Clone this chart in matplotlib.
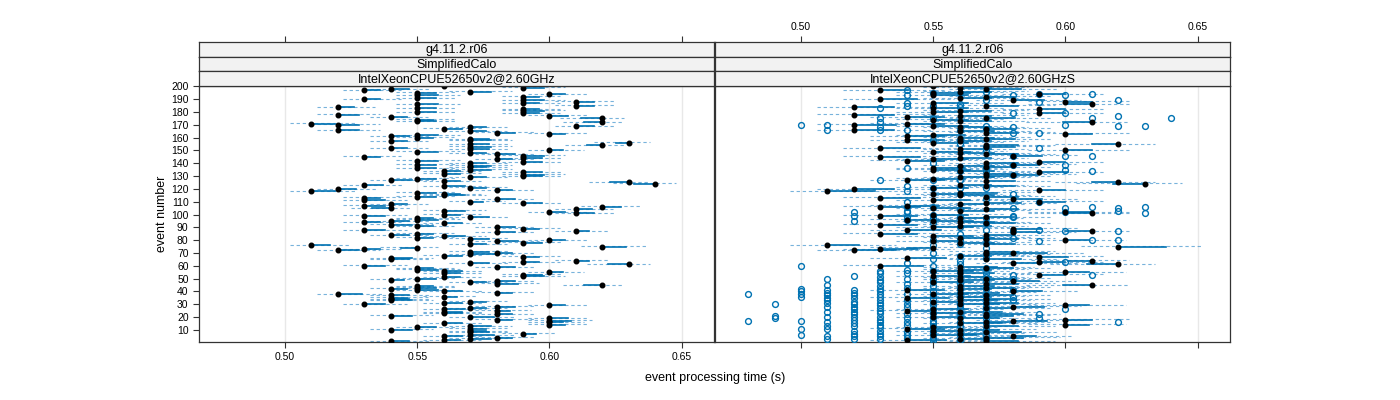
import matplotlib
matplotlib.use("Agg")
import matplotlib.pyplot as plt

plt.rcParams['font.family'] = ['Liberation Sans', 'DejaVu Sans']

# strip labels (three levels per panel)
strips_left = ['g4.11.2.r06', 'SimplifiedCalo', 'IntelXeonCPUE52650v2@2.60GHz']
strips_right = ['g4.11.2.r06', 'SimplifiedCalo', 'IntelXeonCPUE52650v2@2.60GHzS']

x_ticks = [0.50, 0.55, 0.60, 0.65]
y_ticks = list(range(10, 201, 10))
events = list(range(1, 201))

# event time of the single run, event 1..200 (ms)
t_left = [
    540, 560, 570, 580, 560, 570, 590, 570, 570, 540,
    570, 550, 570, 600, 560, 600, 600, 580, 600, 570,
    540, 580, 560, 560, 580, 560, 570, 580, 600, 530,
    560, 570, 540, 540, 540, 560, 540, 520, 580, 560,
    550, 540, 550, 550, 620, 580, 570, 580, 540, 550,
    560, 590, 590, 560, 600, 560, 550, 550, 580, 530,
    630, 570, 590, 610, 540, 540, 590, 560, 570, 580,
    570, 520, 530, 550, 620, 510, 570, 590, 580, 600,
    570, 550, 560, 540, 550, 580, 610, 530, 590, 580,
    550, 540, 560, 530, 540, 550, 550, 570, 530, 560,
    610, 600, 560, 610, 540, 620, 530, 540, 590, 570,
    530, 580, 530, 550, 560, 560, 550, 510, 580, 520,
    570, 560, 530, 640, 630, 560, 540, 550, 570, 590,
    590, 560, 590, 560, 570, 550, 570, 570, 550, 570,
    590, 550, 580, 590, 530, 590, 580, 570, 550, 600,
    570, 540, 570, 620, 570, 630, 540, 570, 570, 550,
    540, 550, 600, 580, 570, 520, 560, 570, 610, 520,
    510, 620, 550, 550, 620, 540, 600, 520, 590, 550,
    590, 590, 550, 520, 610, 550, 590, 610, 590, 530,
    550, 590, 550, 600, 550, 570, 530, 540, 590, 560,
]

# shift from the dot to the reference mean (ms)
offset_left = [
    7, 6, 8, 6, 7, 9, 5, 7, 6, 8,
    6, 7, 8, 6, 7, 5, 8, 6, 7, 9,
    8, 6, 7, 7, 5, 8, 6, 7, 6, 8,
    7, 6, 8, 7, 6, 5, 7, 9, 6, 7,
    8, 6, 7, 6, -7, 8, 6, 7, 5, 7,
    6, 8, 7, 6, 5, 7, 8, 6, 7, 8,
    -8, 7, 6, 5, 7, 8, 6, 7, 9, 6,
    7, 8, 6, -6, 9, 7, 6, 7, 8, 6,
    7, 6, 8, 7, 6, 7, 5, 8, 6, 7,
    6, 8, 7, 6, 7, 8, 6, 7, 8, 6,
    7, 6, 8, 6, -7, 7, 8, 6, 7, 5,
    8, 7, 6, 7, 8, 6, 7, 9, 6, 7,
    6, 8, 7, -8, -7, 6, 8, 7, 6, 7,
    8, 6, 7, 6, 8, 7, 6, 8, 7, 6,
    7, 8, 6, 7, 6, 8, 7, 6, 8, 5,
    7, 6, 8, -6, 7, -5, 6, 8, 7, 6,
    7, 8, 6, 7, 6, 8, 7, 6, 7, 8,
    9, -7, 7, 6, -8, 6, 7, 8, 6, 7,
    8, 6, 7, 6, 7, 8, 6, 7, 8, 6,
    7, 6, 8, 6, 7, 8, 6, 7, 8, 6,
]
sd_left = 8

t_right = [
    570, 540, 560, 570, 580, 550, 560, 570, 550, 560,
    540, 550, 570, 600, 560, 570, 580, 600, 560, 550,
    570, 570, 550, 560, 540, 550, 570, 580, 600, 560,
    570, 550, 560, 570, 540, 560, 570, 550, 560, 580,
    540, 560, 570, 560, 610, 570, 550, 580, 560, 570,
    560, 550, 590, 560, 600, 550, 560, 570, 560, 530,
    620, 580, 590, 610, 570, 540, 590, 560, 570, 580,
    570, 520, 530, 550, 620, 510, 570, 560, 550, 600,
    570, 560, 550, 570, 530, 580, 610, 540, 580, 550,
    560, 530, 570, 560, 550, 540, 560, 570, 530, 550,
    610, 600, 560, 570, 550, 530, 540, 560, 570, 590,
    550, 580, 530, 570, 560, 550, 560, 510, 590, 520,
    550, 570, 560, 630, 620, 570, 540, 550, 560, 570,
    580, 570, 590, 560, 550, 550, 570, 560, 580, 570,
    590, 540, 550, 560, 530, 580, 570, 560, 550, 600,
    560, 530, 570, 570, 620, 550, 560, 540, 570, 560,
    540, 550, 600, 570, 560, 520, 570, 560, 550, 520,
    540, 610, 560, 550, 570, 540, 560, 520, 590, 550,
    560, 590, 550, 520, 570, 610, 550, 600, 580, 530,
    560, 570, 550, 590, 550, 560, 530, 570, 560, 550,
]

offset_right = [
    12, 15, 10, 14, 9, 16, 11, 13, 10, 15,
    14, 10, 12, 9, 16, 11, 13, 10, 15, 12,
    10, 14, 12, 16, 11, 13, 10, 12, 9, 15,
    12, 10, 14, 11, 16, 12, 10, 13, 15, 11,
    14, 12, 10, 13, -11, 12, 15, 10, 13, 11,
    12, 14, 10, 13, 9, 15, 12, 10, 14, 16,
    -12, 11, 10, -9, 13, 15, 11, 12, 10, 13,
    12, 16, 14, -10, 18, 12, 11, 13, 10, 9,
    12, 13, 15, 11, 14, 10, -10, 13, 11, 15,
    12, 14, 11, 13, 15, 12, 10, 11, 14, 13,
    -10, 10, 13, 12, 14, 15, 12, 11, 13, 10,
    14, 11, 15, 12, 13, 12, 14, 18, 10, 15,
    13, 11, 12, -12, -10, 11, 14, 12, 13, 11,
    10, 12, 11, 13, 14, 12, 11, 13, 10, 12,
    10, 14, 13, 12, 15, 11, 12, 13, 14, 10,
    12, 15, 11, 12, -10, 13, 12, 14, 11, 13,
    14, 12, 10, 12, 13, 15, 11, 12, 13, 16,
    14, -11, 12, 13, 11, 14, 12, 15, 10, 13,
    12, 10, 13, 15, 12, -10, 13, 10, 12, 14,
    12, 11, 13, 10, 14, 12, 11, 13, 12, 13,
]
sd_right = 14

# other runs (open circles): time in ms -> events
runs_right = {
    480: [38, 17],
    490: [30, 21, 19],
    500: [170, 60, 42, 40, 38, 36, 17, 11, 6],
    510: [170, 166, 50, 45, 41, 39, 37, 35, 33, 31, 28, 24, 20, 16, 13, 11, 5, 3],
    520: [102, 99, 95, 52, 41, 39, 37, 35, 32, 30, 28, 26, 24, 22, 20, 18, 15, 13, 9, 7, 5, 3],
    530: [183, 175, 172, 168, 166, 127, 56, 54, 51, 49, 47, 44, 42, 40, 38, 36, 33, 31, 29,
          27, 25, 23, 20, 18, 16, 14, 12, 9, 7, 5, 3],
    540: [197, 193, 187, 185, 166, 136, 122, 118, 110, 106, 103, 102, 98, 96, 62, 57, 54, 50,
          46, 43, 38, 33, 30, 28, 22, 19, 16, 14, 8, 6, 4],
    550: [195, 185, 175, 158, 140, 127, 121, 106, 100, 97, 93, 80, 76, 70, 65, 60, 56, 50, 47,
          44, 40, 37, 34, 31, 29, 26, 23, 20, 17, 15, 13, 9, 7, 4, 2],
    560: [195, 186, 184, 166, 158, 155, 137, 134, 127, 121, 116, 104, 98, 90, 85, 80, 77, 68,
          64, 61, 55, 49, 46, 42, 39, 36, 31, 29, 27, 23, 20, 16, 13, 8, 6, 2],
    570: [196, 189, 169, 167, 153, 150, 136, 134, 121, 112, 97, 93, 88, 82, 78, 74, 69, 66,
          58, 54, 51, 48, 44, 42, 37, 34, 31, 28, 25, 21, 19, 15, 11, 9, 5, 3],
    580: [193, 179, 168, 164, 146, 139, 131, 116, 105, 99, 98, 87, 82, 53, 50, 41, 36, 33],
    590: [194, 188, 164, 152, 110, 88, 79, 22, 19],
    600: [193, 179, 170, 146, 139, 135, 105, 102, 87, 63, 26],
    610: [194, 175, 146, 134, 106, 80, 53],
    620: [189, 177, 169, 105, 103, 87, 80, 16],
    630: [169, 106, 101],
    640: [175],
}

solid_col = '#0072B2'
dash_col = '#3f93cc'


def draw_panel(ax, times, offsets, sd):
    for ev, t, off in zip(events, times, offsets):
        x0 = t / 1000
        m = (t + off) / 1000
        lo = min(x0, m) - sd / 1000
        hi = max(x0, m) + sd / 1000
        ax.plot([lo, hi], [ev + 0.3, ev + 0.3], color=dash_col, lw=0.8,
                ls=(0, (3, 2.5)), alpha=0.7, zorder=2)
        ax.plot([x0, m], [ev, ev], color=solid_col, lw=1.2, zorder=3)


fig = plt.figure(figsize=(14, 4), dpi=100)
W, H = 1400, 400
panels = [(199, strips_left, t_left, offset_left, sd_left, 'left'),
          (715, strips_right, t_right, offset_right, sd_right, 'right')]
pw = 515
xlim = (0.4675, 0.6622)

for x0px, strips, times, offsets, sd, side in panels:
    ax = fig.add_axes([x0px / W, 1 - 342 / H, pw / W, 256 / H])
    ax.set_xlim(*xlim)
    ax.set_ylim(0.5, 200.3)
    for xt in x_ticks:
        ax.axvline(xt, color='#e8e8e8', lw=1, zorder=0)
    draw_panel(ax, times, offsets, sd)
    if side == 'right':
        for val, evs in runs_right.items():
            ax.plot([val / 1000] * len(evs), evs, ls='none', marker='o', ms=4.2,
                    mfc='none', mec=solid_col, mew=1.0, zorder=4)
    ax.plot([t / 1000 for t in times], events, ls='none', marker='o', ms=3.3,
            color='black', zorder=5)
    ax.set_xticks(x_ticks)
    ax.set_yticks(y_ticks)
    ax.tick_params(direction='out', length=4, width=0.8, colors='#333333',
                   labelsize=7.5, labelcolor='black')
    if side == 'left':
        ax.set_xticklabels(['0.50', '0.55', '0.60', '0.65'])
        ax.set_ylabel('event number', fontsize=9, labelpad=2)
    else:
        ax.set_xticklabels([])
        ax.tick_params(axis='y', left=False, labelleft=False)
    for sp in ax.spines.values():
        sp.set_color('#333333')
        sp.set_linewidth(0.9)

    # strips stacked above the panel
    strip_h = 14.7
    for i, label in enumerate(strips):
        top = 42 + i * strip_h
        sax = fig.add_axes([x0px / W, 1 - (top + strip_h) / H, pw / W, strip_h / H])
        sax.set_facecolor('#f2f2f2')
        sax.set_xlim(*xlim)
        sax.set_yticks([])
        sax.text(0.5, 0.45, label, ha='center', va='center', fontsize=9,
                 transform=sax.transAxes)
        for sp in sax.spines.values():
            sp.set_color('#333333')
            sp.set_linewidth(0.9)
        if i == 0:
            sax.set_xticks(x_ticks)
            sax.tick_params(axis='x', top=True, bottom=False, labelbottom=False,
                            labeltop=(side == 'right'), direction='out', length=4,
                            width=0.8, colors='#333333', labelsize=7.5,
                            labelcolor='black')
            if side == 'right':
                sax.set_xticklabels(['0.50', '0.55', '0.60', '0.65'])
        else:
            sax.set_xticks([])

fig.text(715 / W, 1 - 378 / H, 'event processing time (s)', ha='center', va='center',
         fontsize=9)

fig.savefig('out.png', dpi=100)
